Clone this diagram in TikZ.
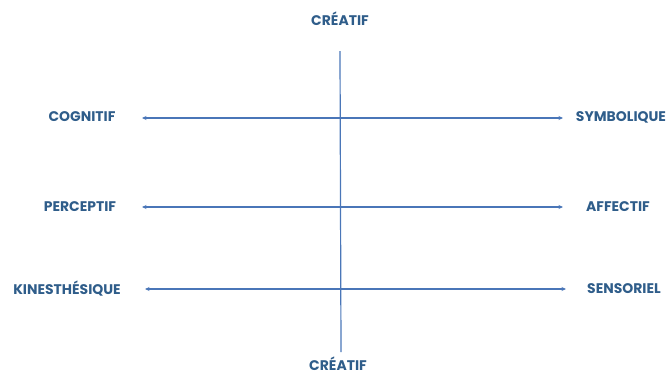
\documentclass[tikz,border=0pt]{standalone}
\usepackage{fontspec}
\setmainfont{Poppins}
\usepackage{tikz}
\usetikzlibrary{arrows.meta}
\definecolor{axetexte}{HTML}{2F5D8A}
\definecolor{axeligne}{HTML}{4A76B8}

\begin{document}
\begin{tikzpicture}[
  x=1bp, y=-1bp,
  pole/.style={text=axetexte, font=\fontsize{14}{16}\selectfont\bfseries, inner sep=1pt},
  axe/.style={draw=axeligne, line width=1.2bp, {Stealth[length=4.5bp,width=4bp]}-{Stealth[length=4.5bp,width=4bp]}}
]
  \useasboundingbox (0,0) rectangle (672,375);

  % axe vertical
  \node[pole] (creatifhaut) at (340,19) {CRÉATIF};
  \node[pole] (creatifbas) at (338,364) {CRÉATIF};
  \coordinate (vhaut) at (340,51);
  \coordinate (vbas) at (341,352);
  \draw[draw=axeligne, line width=1.2bp] (vhaut) -- (vbas);

  % axes horizontaux
  \node[pole] (cognitif) at (82,117) {COGNITIF};
  \node[pole] (symbolique) at (621,117) {SYMBOLIQUE};
  \coordinate (g1) at (142,118);
  \coordinate (d1) at (563,118);
  \draw[axe] (g1) -- (d1);

  \node[pole] (perceptif) at (80,207) {PERCEPTIF};
  \node[pole] (affectif) at (618,207) {AFFECTIF};
  \coordinate (g2) at (142,207);
  \coordinate (d2) at (563,207);
  \draw[axe] (g2) -- (d2);

  \node[pole] (kinesthesique) at (67,289) {KINESTHÉSIQUE};
  \node[pole] (sensoriel) at (624,289) {SENSORIEL};
  \coordinate (g3) at (145,289);
  \coordinate (d3) at (566,289);
  \draw[axe] (g3) -- (d3);
\end{tikzpicture}
\end{document}
